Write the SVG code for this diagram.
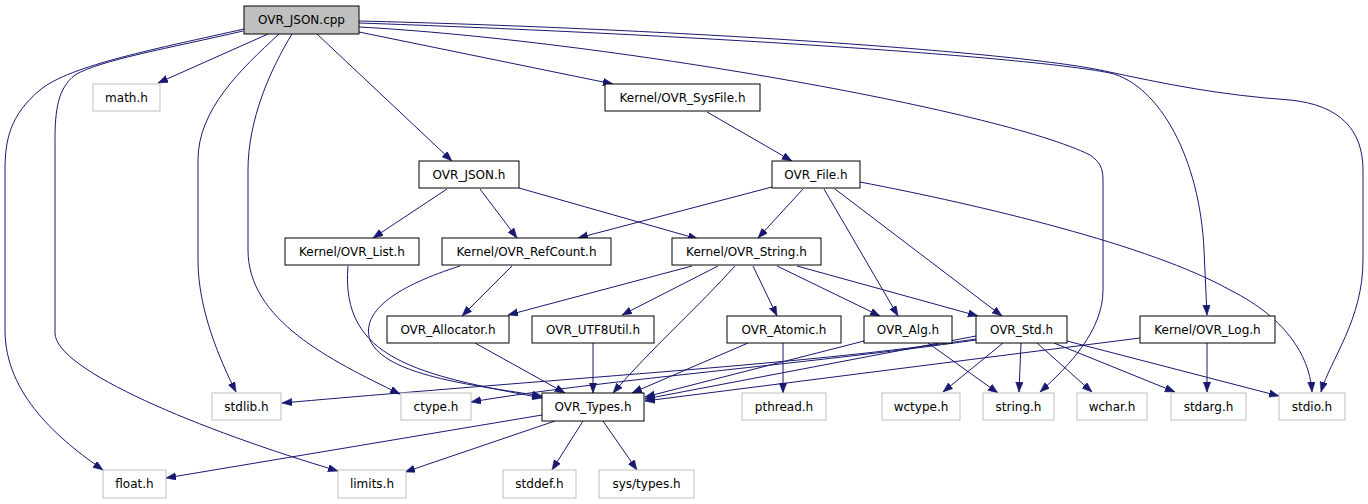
<svg xmlns="http://www.w3.org/2000/svg" width="1368" height="504" viewBox="0 0 1368 504">
<style>
.n rect{fill:#fff;stroke:#000;stroke-width:1}
.x rect{fill:#fff;stroke:#bfbfbf;stroke-width:1}
.r rect{fill:#bfbfbf;stroke:#000;stroke-width:1}
text{font-family:"DejaVu Sans",sans-serif;font-size:12px;text-anchor:middle;fill:#000}
#edges path{fill:none;stroke:#191970;stroke-width:1;marker-end:url(#ah)}
</style>
<defs>
<marker id="ah" markerUnits="userSpaceOnUse" markerWidth="11" markerHeight="8" refX="10" refY="3.75" orient="auto">
<path d="M0,0 L10,3.75 L0,7.5 z" fill="#191970" stroke="#191970" stroke-width="0.5"/>
</marker>
</defs>
<rect width="1368" height="504" fill="#fff"/>
<g id="edges">
<path d="M268,34 L158,83"/>
<path d="M244,29 C160,48 70,65 40,90 C10,115 5,140 5,170 L5,330 C5,395 60,440 103,470"/>
<path d="M243,31 C170,48 100,60 75,75 C58,88 55,110 55,140 L55,333 C55,370 200,430 338,471"/>
<path d="M279,34 C240,70 198,110 198,160 L198,260 C198,310 220,360 236,392"/>
<path d="M292,34 C270,70 248,120 248,170 L248,250 C248,320 330,360 400,394"/>
<path d="M317,34 L452,161"/>
<path d="M359,32 L613,84"/>
<path d="M359,27 C600,40 1000,110 1090,155 C1100,162 1103,168 1103,180 L1103,290 C1103,330 1070,365 1040,392"/>
<path d="M359,23 C650,33 1020,55 1110,73 C1160,85 1200,160 1204,250 L1207,315"/>
<path d="M359,21 C650,28 1000,50 1100,70 C1170,85 1220,95 1290,100 C1340,105 1363,130 1363,170 L1363,260 C1363,320 1330,360 1321,392"/>
<path d="M447,189 L373,238"/>
<path d="M480,189 L517,238"/>
<path d="M519,188 L698,239"/>
<path d="M707,112 L792,161"/>
<path d="M772,187 L578,238"/>
<path d="M803,189 L758,238"/>
<path d="M824,189 L898,316"/>
<path d="M835,189 L1002,316"/>
<path d="M860,182 C980,205 1150,245 1230,290 C1290,320 1310,360 1312,392"/>
<path d="M348,266 C340,360 420,375 542,398"/>
<path d="M460,266 C400,285 360,310 370,340 C385,375 470,385 542,396"/>
<path d="M512,266 L462,316"/>
<path d="M692,266 L508,315"/>
<path d="M718,266 L622,315"/>
<path d="M735,266 C700,305 650,350 613,393"/>
<path d="M753,266 L777,316"/>
<path d="M777,266 L880,316"/>
<path d="M797,266 L978,316"/>
<path d="M475,343 L565,393"/>
<path d="M593,343 L593,393"/>
<path d="M748,343 L632,393"/>
<path d="M783,343 L783,393"/>
<path d="M864,341 L645,397"/>
<path d="M928,343 L998,393"/>
<path d="M976,336 L645,399"/>
<path d="M976,339 C800,365 600,375 282,403"/>
<path d="M976,340 C800,365 600,380 471,402"/>
<path d="M1140,338 L645,401"/>
<path d="M1003,343 L943,392"/>
<path d="M1021,343 L1019,392"/>
<path d="M1037,343 L1092,392"/>
<path d="M1054,343 L1175,392"/>
<path d="M1067,341 L1279,396"/>
<path d="M1207,343 L1207,392"/>
<path d="M542,415 L166,478"/>
<path d="M555,421 L405,472"/>
<path d="M583,421 L552,470"/>
<path d="M603,421 L637,470"/>
</g>
<g id="OVR_JSON_cpp" class="r"><rect x="244" y="6" width="115" height="28"/><text x="301.5" y="24">OVR_JSON.cpp</text></g>
<g id="math_h" class="x"><rect x="93" y="84" width="67" height="27"/><text x="126.5" y="102">math.h</text></g>
<g id="Kernel_OVR_SysFile_h" class="n"><rect x="605" y="84" width="155" height="27"/><text x="682.5" y="102">Kernel/OVR_SysFile.h</text></g>
<g id="OVR_JSON_h" class="n"><rect x="419" y="161" width="100" height="27"/><text x="469" y="179">OVR_JSON.h</text></g>
<g id="OVR_File_h" class="n"><rect x="772" y="161" width="88" height="27"/><text x="816" y="179">OVR_File.h</text></g>
<g id="Kernel_OVR_List_h" class="n"><rect x="285" y="238" width="134" height="27"/><text x="352" y="256">Kernel/OVR_List.h</text></g>
<g id="Kernel_OVR_RefCount_h" class="n"><rect x="442" y="238" width="169" height="27"/><text x="526.5" y="256">Kernel/OVR_RefCount.h</text></g>
<g id="Kernel_OVR_String_h" class="n"><rect x="672" y="238" width="149" height="27"/><text x="746.5" y="256">Kernel/OVR_String.h</text></g>
<g id="OVR_Allocator_h" class="n"><rect x="387" y="316" width="122" height="27"/><text x="448" y="334">OVR_Allocator.h</text></g>
<g id="OVR_UTF8Util_h" class="n"><rect x="532" y="316" width="122" height="27"/><text x="593" y="334">OVR_UTF8Util.h</text></g>
<g id="OVR_Atomic_h" class="n"><rect x="727" y="316" width="114" height="27"/><text x="784" y="334">OVR_Atomic.h</text></g>
<g id="OVR_Alg_h" class="n"><rect x="864" y="316" width="88" height="27"/><text x="908" y="334">OVR_Alg.h</text></g>
<g id="OVR_Std_h" class="n"><rect x="976" y="316" width="91" height="27"/><text x="1021.5" y="334">OVR_Std.h</text></g>
<g id="Kernel_OVR_Log_h" class="n"><rect x="1140" y="316" width="135" height="27"/><text x="1207.5" y="334">Kernel/OVR_Log.h</text></g>
<g id="stdlib_h" class="x"><rect x="212" y="393" width="69" height="27"/><text x="246.5" y="411">stdlib.h</text></g>
<g id="ctype_h" class="x"><rect x="401" y="393" width="70" height="27"/><text x="436" y="411">ctype.h</text></g>
<g id="OVR_Types_h" class="n"><rect x="542" y="393" width="102" height="28"/><text x="593" y="411">OVR_Types.h</text></g>
<g id="pthread_h" class="x"><rect x="742" y="393" width="84" height="27"/><text x="784" y="411">pthread.h</text></g>
<g id="wctype_h" class="x"><rect x="882" y="393" width="78" height="27"/><text x="921" y="411">wctype.h</text></g>
<g id="string_h" class="x"><rect x="983" y="393" width="71" height="27"/><text x="1018.5" y="411">string.h</text></g>
<g id="wchar_h" class="x"><rect x="1077" y="393" width="70" height="27"/><text x="1112" y="411">wchar.h</text></g>
<g id="stdarg_h" class="x"><rect x="1171" y="393" width="75" height="27"/><text x="1208.5" y="411">stdarg.h</text></g>
<g id="stdio_h" class="x"><rect x="1279" y="393" width="66" height="27"/><text x="1312" y="411">stdio.h</text></g>
<g id="float_h" class="x"><rect x="103" y="470" width="63" height="28"/><text x="134.5" y="488">float.h</text></g>
<g id="limits_h" class="x"><rect x="338" y="470" width="68" height="28"/><text x="372" y="488">limits.h</text></g>
<g id="stddef_h" class="x"><rect x="503" y="470" width="73" height="28"/><text x="539.5" y="488">stddef.h</text></g>
<g id="sys_types_h" class="x"><rect x="599" y="470" width="95" height="28"/><text x="646.5" y="488">sys/types.h</text></g>
</svg>
